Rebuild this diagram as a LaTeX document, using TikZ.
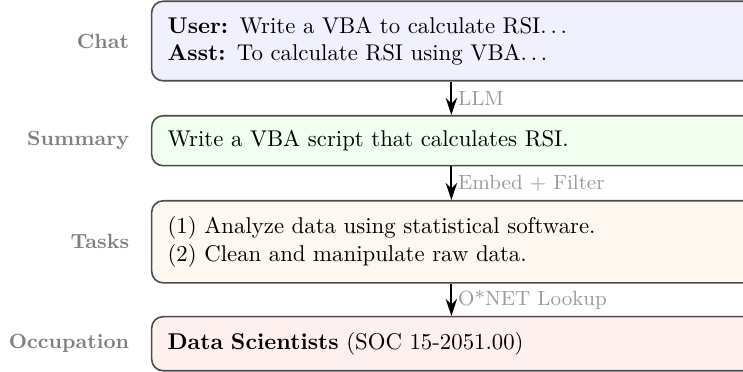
\documentclass[tikz,border=0pt]{standalone}
\usepackage{tikz}
\usetikzlibrary{positioning,arrows.meta}

\begin{document}
\begin{tikzpicture}[
  stagebox/.style={draw=black!70, line width=0.7pt, rounded corners=5pt,
    text width=258pt, align=left, inner xsep=7pt, inner ysep=3pt,
    anchor=north west},
  stagename/.style={font=\small\bfseries, text=black!50, anchor=east},
  flow/.style={-{Stealth[length=7.5pt,width=5pt]}, line width=0.9pt},
  flowname/.style={font=\small, text=black!40, anchor=west, inner sep=2.5pt}]
\useasboundingbox (0,0) rectangle (326pt,-163.2pt);

% Stages
\node[stagebox, fill=blue!6, minimum height=34.9pt] (chat) at (66.2pt,-0.2pt)
  {\textbf{User:} Write a VBA to calculate RSI$\ldots$\\
   \textbf{Asst:} To calculate RSI using VBA$\ldots$};
\node[stagebox, fill=green!6, minimum height=21.9pt] (summary) at (66.2pt,-50.45pt)
  {Write a VBA script that calculates RSI.};
\node[stagebox, fill=orange!6, minimum height=36pt] (tasks) at (66.2pt,-87.75pt)
  {(1) Analyze data using statistical software.\\
   (2) Clean and manipulate raw data.};
\node[stagebox, fill=red!6, minimum height=23.7pt] (occupation) at (66.2pt,-138.6pt)
  {\textbf{Data Scientists} (SOC 15-2051.00)};

% Names on the left
\node[stagename, left=6pt of chat.west] (chatname) {Chat};
\node[stagename, left=6pt of summary.west] (summaryname) {Summary};
\node[stagename, left=6pt of tasks.west] (tasksname) {Tasks};
\node[stagename, left=6pt of occupation.west] (occupationname) {Occupation};

% Steps
\draw[flow] ([xshift=-4.5pt]chat.south) -- node[flowname] (llm) {LLM}
  ([xshift=-4.5pt]summary.north);
\draw[flow] ([xshift=-4.5pt]summary.south) -- node[flowname] (embed) {Embed + Filter}
  ([xshift=-4.5pt]tasks.north);
\draw[flow] ([xshift=-4.5pt]tasks.south) -- node[flowname] (lookup) {O*NET Lookup}
  ([xshift=-4.5pt]occupation.north);
\end{tikzpicture}
\end{document}
